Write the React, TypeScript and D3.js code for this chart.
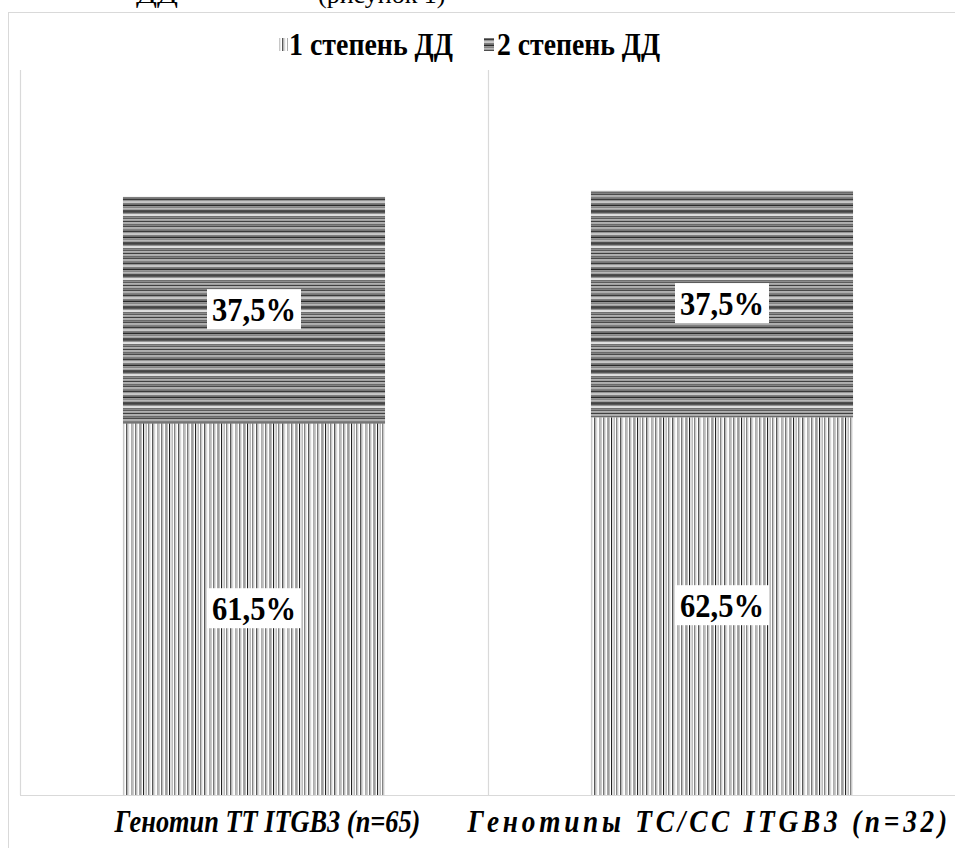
import React from "react";
import * as d3 from "d3";

const categories = ["Генотип TT ITGB3 (n=65)", "Генотипы TC/CC ITGB3 (n=32)"];
const seriesNames = ["1 степень ДД", "2 степень ДД"];
const degree1 = [61.5, 62.5];
const degree2 = [37.5, 37.5];
const labels1 = ["61,5%", "62,5%"];
const labels2 = ["37,5%", "37,5%"];

const W = 955;
const H = 848;
const FONT = "'Liberation Serif', 'Times New Roman', Tinos, serif";

const vGrays = ["#ffffff", "#8a8a8a", "#bdbdbd", "#ffffff", "#555555", "#cfcfcf", "#ffffff", "#9a9a9a", "#767676", "#ffffff", "#222222", "#ececec", "#ababab", "#ffffff", "#666666", "#dddddd", "#ffffff", "#444444", "#b5b5b5", "#f5f5f5"];
const hGrays = ["#6a6a6a", "#4a4a4a", "#a5a5a5", "#808080", "#3a3a3a", "#959595", "#c8c8c8", "#5e5e5e", "#2a2a2a", "#858585", "#b8b8b8", "#4e4e4e", "#1e1e1e", "#949494", "#e0e0e0", "#707070", "#5c5c5c", "#a6a6a6", "#404040", "#acacac"];

const catLabelWidths = [305, 487];
const catLabelShift = [13, -11];
const catScaleX = [0.85, 0.88];
const catSpacing = [0, 4.3];

export default function App() {
  const x = d3.scaleBand<string>().domain(categories).range([20, 956]).padding(0);
  const y = d3.scaleLinear().domain([0, 120]).range([795, 70]);
  const barW = x.bandwidth() * 0.56;

  const stack = categories.map((c, i) => ({
    c,
    a0: 0,
    a1: degree1[i],
    b0: degree1[i],
    b1: degree1[i] + degree2[i],
  }));

  return (
    <svg width={W} height={H} style={{ position: "absolute", left: 0, top: 0, background: "#fff" }}>
      <defs>
        <pattern id="vstripe" patternUnits="userSpaceOnUse" width={vGrays.length * 1.3} height={10}>
          {vGrays.map((g, i) => (
            <rect key={i} x={i * 1.3} y={0} width={1.3} height={10} fill={g} />
          ))}
        </pattern>
        <pattern id="hstripe" patternUnits="userSpaceOnUse" width={10} height={hGrays.length * 1.6}>
          {hGrays.map((g, i) => (
            <rect key={i} x={0} y={i * 1.6} width={10} height={1.6} fill={g} />
          ))}
        </pattern>
      </defs>
      <rect x={0} y={0} width={W} height={H} fill="#fff" />
      {/* cropped text above the frame */}
      <g fontFamily={FONT} fontSize={26} fill="#000">
        <text x={136} y={3} textLength={42} lengthAdjust="spacingAndGlyphs">ДД</text>
        <text x={318} y={3}>(рисунок 1)</text>
      </g>
      {/* outer frame */}
      <rect x={8.5} y={12.5} width={W + 20} height={H + 20} fill="#fff" stroke="#d9d9d9" strokeWidth={1} />
      {/* gridlines */}
      {[20, 488, 956].map((gx, i) => (
        <line key={i} x1={gx + 0.5} x2={gx + 0.5} y1={y(120)} y2={y(0)} stroke="#d9d9d9" strokeWidth={1.2} />
      ))}
      <line x1={20} x2={W} y1={y(0) + 0.5} y2={y(0) + 0.5} stroke="#d9d9d9" strokeWidth={1.2} />
      {/* bars */}
      {stack.map((s) => {
        const cx = (x(s.c) as number) + x.bandwidth() / 2;
        return (
          <g key={s.c}>
            <rect x={cx - barW / 2} y={y(s.a1)} width={barW} height={y(s.a0) - y(s.a1)} fill="url(#vstripe)" />
            <rect x={cx - barW / 2} y={y(s.b1)} width={barW} height={y(s.b0) - y(s.b1)} fill="url(#hstripe)" />
          </g>
        );
      })}
      {/* data labels */}
      {stack.map((s, i) => {
        const cx = (x(s.c) as number) + x.bandwidth() / 2;
        const items = [
          { t: labels1[i], yc: (y(s.a0) + y(s.a1)) / 2 },
          { t: labels2[i], yc: (y(s.b0) + y(s.b1)) / 2 },
        ];
        return items.map((it, j) => (
          <g key={`${i}-${j}`}>
            <rect x={cx - 47} y={it.yc - 21} width={94} height={40} fill="#fff" />
            <text x={cx} y={it.yc + 11} textAnchor="middle" fontFamily={FONT} fontWeight="bold" fontSize={33} textLength={84} lengthAdjust="spacingAndGlyphs" fill="#000">
              {it.t}
            </text>
          </g>
        ));
      })}
      {/* category labels */}
      {categories.map((c, i) => {
        const left = (x(c) as number) + x.bandwidth() / 2 + catLabelShift[i] - catLabelWidths[i] / 2;
        return (
          <text
            key={c}
            transform={`translate(${left},832) scale(${catScaleX[i]},1)`}
            x={0}
            y={0}
            fontFamily={FONT}
            fontWeight="bold"
            fontStyle="italic"
            fontSize={31}
            style={{ letterSpacing: `${catSpacing[i]}px` }}
            fill="#000"
          >
            {c}
          </text>
        );
      })}
      {/* legend */}
      <g>
        <rect x={279} y={38} width={9} height={13} fill="url(#vstripe)" />
        <text x={289} y={55} fontFamily={FONT} fontWeight="bold" fontSize={31} textLength={164} lengthAdjust="spacingAndGlyphs" fill="#000">{seriesNames[0]}</text>
        <rect x={484} y={38} width={10} height={13} fill="url(#hstripe)" />
        <text x={497} y={55} fontFamily={FONT} fontWeight="bold" fontSize={31} textLength={163} lengthAdjust="spacingAndGlyphs" fill="#000">{seriesNames[1]}</text>
      </g>
    </svg>
  );
}
